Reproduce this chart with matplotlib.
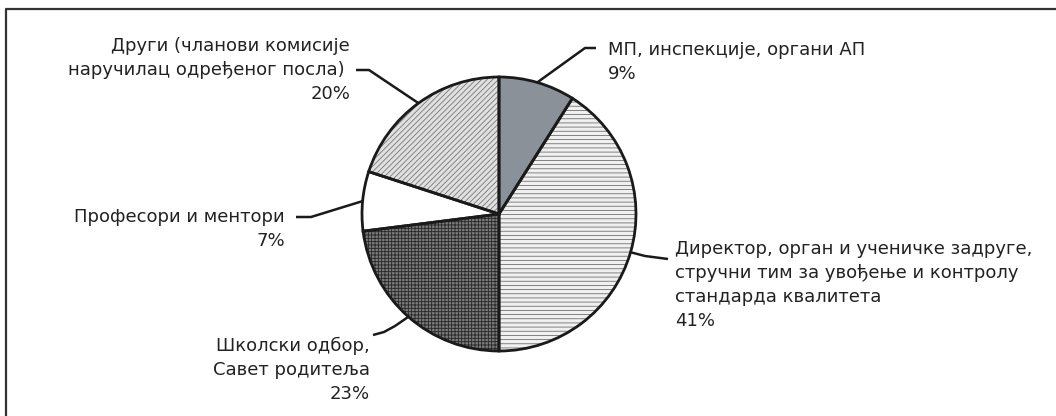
import matplotlib
matplotlib.use("Agg")
import matplotlib.pyplot as plt
import numpy as np

plt.rcParams['font.family'] = ['DejaVu Sans']
plt.rcParams['hatch.linewidth'] = 0.6

# slice data, clockwise from the top
labels = [
    "МП, инспекције, органи АП",
    "Директор, орган и ученичке задруге,\nстручни тим за увођење и контролу\nстандарда квалитета",
    "Школски одбор,\nСавет родитеља",
    "Професори и ментори",
    "Други (чланови комисије\nнаручилац одређеног посла) ",
]
shares = [9, 41, 23, 7, 20]

face_colors = ["#8a9198", "#f0f0f0", "#7a7a7a", "#ffffff", "#e0e0e0"]
hatch_colors = ["#8a9198", "#707070", "#262626", "#ffffff", "#777777"]
hatches = [None, "----", "+++++", None, "//////"]

W, H = 1056, 416
CX, CY, R = 499, 214, 137   # pie centre and radius in pixels


def px(x, y):
    # pixel position (top-left origin) -> data coords
    return (x - CX) / R, (CY - y) / R


fig = plt.figure(figsize=(W / 100, H / 100), dpi=100)
ax = fig.add_axes([0, 0, 1, 1])

# fill + hatch layer
wedges, _ = ax.pie(shares, startangle=90, counterclock=False, radius=1,
                   wedgeprops=dict(linewidth=0))
for w, fc, hc, h in zip(wedges, face_colors, hatch_colors, hatches):
    w.set_facecolor(fc)
    w.set_edgecolor(hc)
    if h:
        w.set_hatch(h)

# outline layer
outl, _ = ax.pie(shares, startangle=90, counterclock=False, radius=1,
                 wedgeprops=dict(facecolor="none", edgecolor="#1a1a1a",
                                 linewidth=2.0))

# pixel-true limits (same scale on both axes)
ax.set_aspect("auto")
ax.set_xlim(-CX / R, (W - CX) / R)
ax.set_ylim(-(H - CY) / R, CY / R)
ax.axis("off")

# anchor on the rim, at the middle of every slice
mids = [np.deg2rad((w.theta1 + w.theta2) / 2) for w in wedges]
anchors = [(np.cos(a), np.sin(a)) for a in mids]

fs = 13
txt = dict(fontsize=fs, color="#222222", linespacing=1.42)
lc = dict(color="#1a1a1a", linewidth=1.8, solid_capstyle="butt")

# 9%
ax.plot(*zip(anchors[0], px(585, 48), px(596, 48)), **lc)
ax.text(*px(608, 62), f"{labels[0]}\n{shares[0]}%", ha="left", va="center",
        **txt)

# 41%
ax.plot(*zip(anchors[1], px(645, 256), px(668, 259)), **lc)
ax.text(*px(675, 285), f"{labels[1]}\n{shares[1]}%", ha="left", va="center",
        **txt)

# 23%
ax.plot(*zip(anchors[2], px(395, 326), px(384, 332), px(373, 335)), **lc)
ax.text(*px(370, 370), f"{labels[2]}\n{shares[2]}%", ha="right", va="center",
        multialignment="right", **txt)

# 7%
ax.plot(*zip(anchors[3], px(311, 217), px(296, 217)), **lc)
ax.text(*px(285, 229), f"{labels[3]}\n{shares[3]}%", ha="right", va="center",
        multialignment="right", **txt)

# 20%
ax.plot(*zip(anchors[4], px(369, 70), px(356, 70)), **lc)
ax.text(*px(350, 70), f"{labels[4]}\n{shares[4]}%", ha="right", va="center",
        multialignment="right", **txt)

# frame: only top and left edges are visible
ax.plot(*zip(px(5.5, H + 5), px(5.5, 8.5), px(W + 5, 8.5)),
        color="#333333", linewidth=1.6, clip_on=False)

fig.savefig("out.png", dpi=100)
